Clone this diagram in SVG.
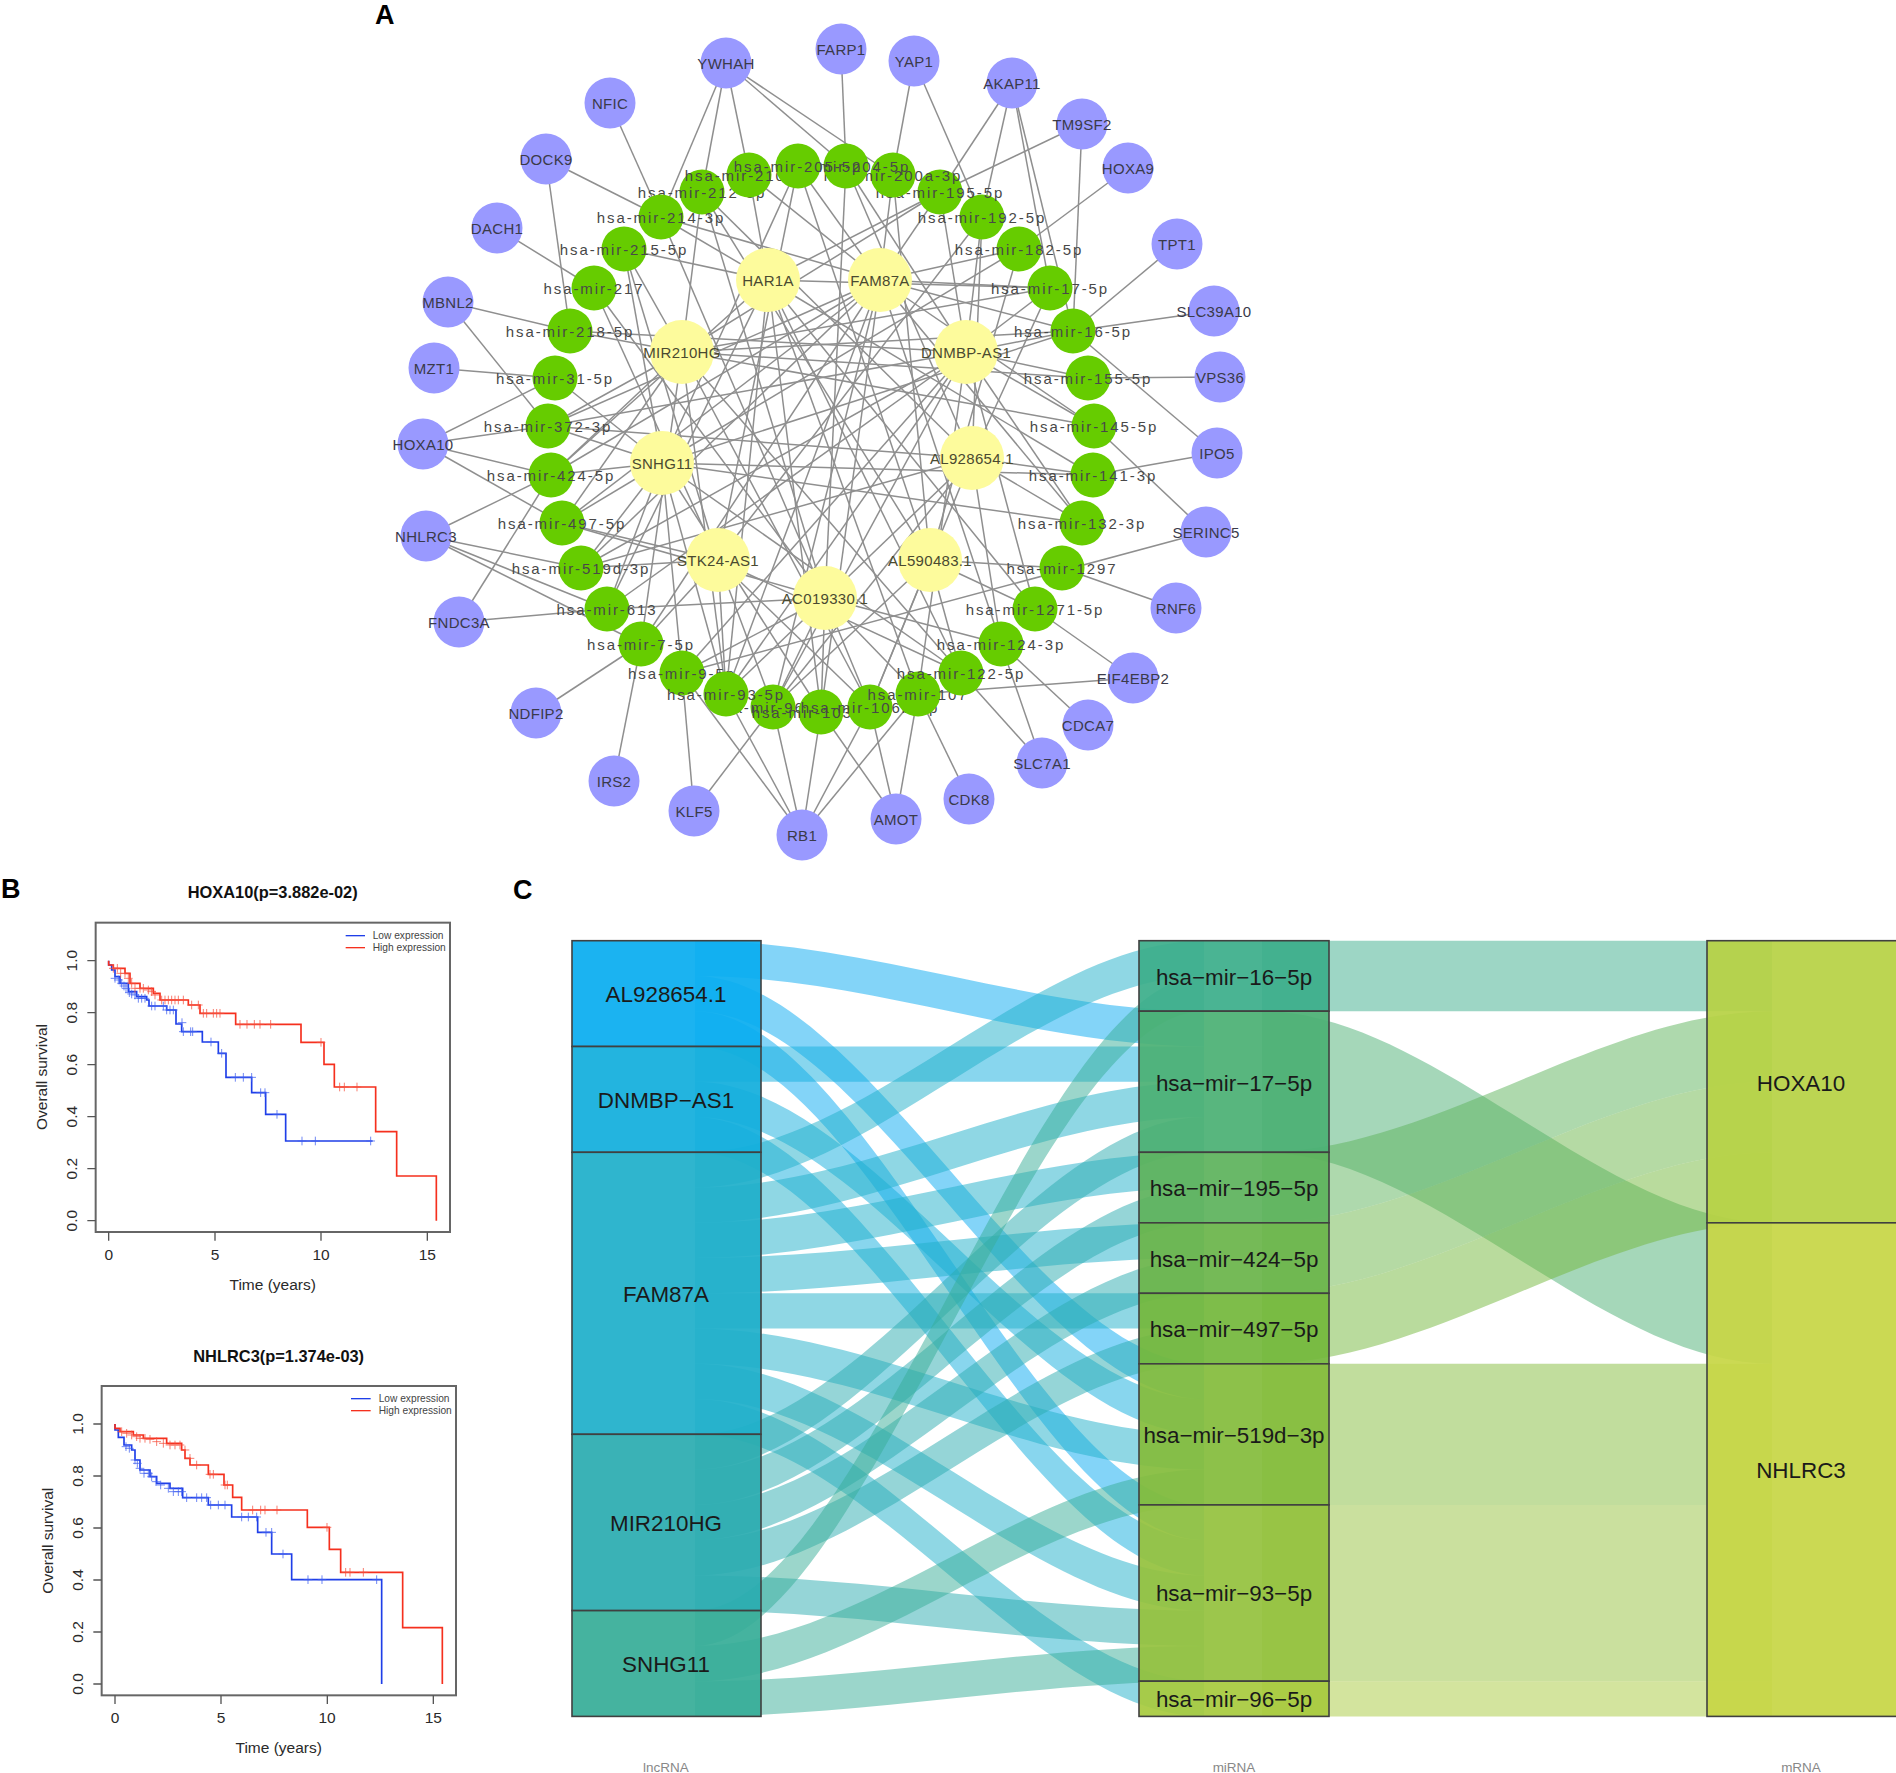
<svg xmlns="http://www.w3.org/2000/svg" width="1896" height="1773" viewBox="0 0 1896 1773">
<style>
text{font-family:"Liberation Sans",Arial,sans-serif}
.e path{stroke:#8f8f8f;stroke-width:1.5;fill:none}
.p circle{fill:#9999ff}
.y circle{fill:#fdfb9c}
.g circle{fill:#66cc00}
.p text,.y text{font-size:15px;letter-spacing:.3px;text-anchor:middle;fill:#3a3a4a;transform:translateY(1px)}
.y text{fill:#4a4a30}
.g text{font-size:15px;letter-spacing:1.9px;text-anchor:middle;fill:#484848;transform:translateY(1px)}
.L{font-weight:bold;font-size:27px;fill:#000}
.rib path{fill-opacity:.5}
.tile rect{fill-opacity:.93;stroke:#404040;stroke-width:1.6}
.tile text{font-size:22.4px;text-anchor:middle;fill:#1a1a1a}
.ax{font-size:13.5px;text-anchor:middle;fill:#888}
.box{fill:none;stroke:#666;stroke-width:6}
.tk{fill:none;stroke:#555;stroke-width:4}
.km text{fill:#2a2a2a}
.km .t{font-size:16.4px;font-weight:bold;text-anchor:middle;fill:#111}
.km .a{font-size:15.5px;text-anchor:middle}
.km .l{font-size:10.2px;fill:#444}
.b{fill:none;stroke:#1f3fe8;stroke-width:5}
.r{fill:none;stroke:#f5301e;stroke-width:5}
.cb{fill:none;stroke:none;marker-start:url(#pb);marker-mid:url(#pb);marker-end:url(#pb)}
.cr{fill:none;stroke:none;marker-start:url(#pr);marker-mid:url(#pr);marker-end:url(#pr)}
</style>
<defs>
<marker id="pb" markerUnits="userSpaceOnUse" markerWidth="30" markerHeight="30" refX="15" refY="15" viewBox="0 0 30 30"><path d="M15 2V28M2 15H28" stroke="#3f5ff0" stroke-width="3" stroke-opacity=".75" fill="none"/></marker>
<marker id="pr" markerUnits="userSpaceOnUse" markerWidth="30" markerHeight="30" refX="15" refY="15" viewBox="0 0 30 30"><path d="M15 2V28M2 15H28" stroke="#f5503e" stroke-width="3" stroke-opacity=".75" fill="none"/></marker>
</defs>
<rect width="1896" height="1773" fill="#fff"/>
<text class="L" x="375" y="24">A</text>
<text class="L" x="1" y="898">B</text>
<text class="L" x="513" y="899">C</text>

<g id="connectors" class="e">
<path d="M726 63L661 217"/><path d="M726 63L702 192"/><path d="M726 63L749 175"/><path d="M726 63L846 166"/><path d="M726 63L893 175"/>
<path d="M841 49L846 166"/><path d="M914 61L893 175"/><path d="M914 61L982 217"/>
<path d="M1012 83L940 192"/><path d="M1012 83L982 217"/><path d="M1012 83L1050 288"/><path d="M1012 83L1073 331"/>
<path d="M1082 124L940 192"/><path d="M1082 124L1073 331"/><path d="M1128 168L1019 249"/>
<path d="M610 103L661 217"/><path d="M546 159L661 217"/><path d="M546 159L570 331"/><path d="M497 228L594 288"/>
<path d="M448 302L570 331"/><path d="M448 302L548 426"/><path d="M434 368L555 378"/>
<path d="M423 444L555 378"/><path d="M423 444L548 426"/><path d="M423 444L551 475"/><path d="M423 444L562 523"/>
<path d="M1177 244L1073 331"/><path d="M1214 311L1073 331"/><path d="M1220 377L1088 378"/>
<path d="M1217 453L1073 331"/><path d="M1217 453L1093 475"/><path d="M1206 532L1094 426"/><path d="M1206 532L682 673"/>
<path d="M1176 608L1062 568"/><path d="M1133 678L1035 609"/><path d="M1133 678L918 694"/>
<path d="M1088 725L1001 644"/><path d="M1042 763L1001 644"/><path d="M1042 763L961 673"/>
<path d="M969 799L918 694"/><path d="M896 819L918 694"/><path d="M896 819L821 712"/><path d="M896 819L870 707"/>
<path d="M802 835L682 673"/><path d="M802 835L726 694"/><path d="M802 835L773 707"/><path d="M802 835L821 712"/><path d="M802 835L870 707"/><path d="M802 835L918 694"/>
<path d="M694 811L773 707"/><path d="M694 811L682 673"/><path d="M614 781L641 644"/><path d="M536 713L641 644"/>
<path d="M459 622L607 609"/><path d="M459 622L551 475"/>
<path d="M426 536L551 475"/><path d="M426 536L581 568"/><path d="M426 536L607 609"/><path d="M426 536L641 644"/>
<!-- FAM87A -->
<path d="M880 280L1073 331"/><path d="M880 280L1050 288"/><path d="M880 280L940 192"/><path d="M880 280L551 475"/><path d="M880 280L562 523"/><path d="M880 280L581 568"/><path d="M880 280L726 694"/><path d="M880 280L773 707"/><path d="M880 280L661 217"/><path d="M880 280L749 175"/><path d="M880 280L893 175"/><path d="M880 280L1019 249"/><path d="M880 280L1094 426"/><path d="M880 280L798 166"/><path d="M880 280L548 426"/><path d="M880 280L641 644"/><path d="M880 280L821 712"/><path d="M880 280L1001 644"/><path d="M880 280L1082 523"/>
<!-- HAR1A -->
<path d="M768 280L661 217"/><path d="M768 280L624 249"/><path d="M768 280L940 192"/><path d="M768 280L749 175"/><path d="M768 280L1050 288"/><path d="M768 280L551 475"/><path d="M768 280L607 609"/><path d="M768 280L726 694"/><path d="M768 280L821 712"/><path d="M768 280L918 694"/><path d="M768 280L961 673"/><path d="M768 280L1035 609"/><path d="M768 280L1093 475"/>
<!-- MIR210HG -->
<path d="M682 352L1050 288"/><path d="M682 352L940 192"/><path d="M682 352L551 475"/><path d="M682 352L562 523"/><path d="M682 352L726 694"/><path d="M682 352L624 249"/><path d="M682 352L570 331"/><path d="M682 352L548 426"/><path d="M682 352L702 192"/><path d="M682 352L1088 378"/><path d="M682 352L1073 331"/><path d="M682 352L1094 426"/><path d="M682 352L641 644"/><path d="M682 352L870 707"/><path d="M682 352L961 673"/>
<!-- DNMBP-AS1 -->
<path d="M966 352L1050 288"/><path d="M966 352L581 568"/><path d="M966 352L726 694"/><path d="M966 352L1073 331"/><path d="M966 352L1088 378"/><path d="M966 352L1094 426"/><path d="M966 352L1082 523"/><path d="M966 352L1035 609"/><path d="M966 352L982 217"/><path d="M966 352L940 192"/><path d="M966 352L570 331"/><path d="M966 352L548 426"/><path d="M966 352L607 609"/><path d="M966 352L682 673"/><path d="M966 352L773 707"/><path d="M966 352L918 694"/><path d="M966 352L846 166"/>
<!-- SNHG11 -->
<path d="M662 463L1073 331"/><path d="M662 463L581 568"/><path d="M662 463L726 694"/><path d="M662 463L1093 475"/><path d="M662 463L1082 523"/><path d="M662 463L548 426"/><path d="M662 463L551 475"/><path d="M662 463L562 523"/><path d="M662 463L555 378"/><path d="M662 463L624 249"/><path d="M662 463L798 166"/><path d="M662 463L1019 249"/><path d="M662 463L961 673"/><path d="M662 463L821 712"/><path d="M662 463L682 673"/><path d="M662 463L607 609"/>
<!-- AL928654.1 -->
<path d="M972 458L1050 288"/><path d="M972 458L581 568"/><path d="M972 458L726 694"/><path d="M972 458L1093 475"/><path d="M972 458L1082 523"/><path d="M972 458L1001 644"/><path d="M972 458L702 192"/><path d="M972 458L846 166"/><path d="M972 458L982 217"/><path d="M972 458L870 707"/><path d="M972 458L773 707"/><path d="M972 458L548 426"/>
<!-- STK24-AS1 -->
<path d="M718 560L581 568"/><path d="M718 560L562 523"/><path d="M718 560L641 644"/><path d="M718 560L726 694"/><path d="M718 560L773 707"/><path d="M718 560L870 707"/><path d="M718 560L961 673"/><path d="M718 560L624 249"/><path d="M718 560L594 288"/><path d="M718 560L798 166"/><path d="M718 560L982 217"/>
<!-- AL590483.1 -->
<path d="M930 560L961 673"/><path d="M930 560L1035 609"/><path d="M930 560L1019 249"/><path d="M930 560L893 175"/><path d="M930 560L798 166"/><path d="M930 560L870 707"/><path d="M930 560L773 707"/><path d="M930 560L702 192"/><path d="M930 560L1062 568"/>
<!-- AC019330.1 -->
<path d="M825 598L870 707"/><path d="M825 598L821 712"/><path d="M825 598L773 707"/><path d="M825 598L918 694"/><path d="M825 598L1001 644"/><path d="M825 598L682 673"/><path d="M825 598L607 609"/><path d="M825 598L562 523"/><path d="M825 598L846 166"/><path d="M825 598L702 192"/><path d="M825 598L661 217"/><path d="M825 598L594 288"/>
</g>

<g class="p">
<g id="n-YWHAH"><circle cx="726" cy="63" r="25.5"/><text x="726" y="68">YWHAH</text></g>
<g id="n-FARP1"><circle cx="841" cy="49" r="25.5"/><text x="841" y="54">FARP1</text></g>
<g id="n-YAP1"><circle cx="914" cy="61" r="25.5"/><text x="914" y="66">YAP1</text></g>
<g id="n-AKAP11"><circle cx="1012" cy="83" r="25.5"/><text x="1012" y="88">AKAP11</text></g>
<g id="n-TM9SF2"><circle cx="1082" cy="124" r="25.5"/><text x="1082" y="129">TM9SF2</text></g>
<g id="n-HOXA9"><circle cx="1128" cy="168" r="25.5"/><text x="1128" y="173">HOXA9</text></g>
<g id="n-NFIC"><circle cx="610" cy="103" r="25.5"/><text x="610" y="108">NFIC</text></g>
<g id="n-DOCK9"><circle cx="546" cy="159" r="25.5"/><text x="546" y="164">DOCK9</text></g>
<g id="n-DACH1"><circle cx="497" cy="228" r="25.5"/><text x="497" y="233">DACH1</text></g>
<g id="n-MBNL2"><circle cx="448" cy="302" r="25.5"/><text x="448" y="307">MBNL2</text></g>
<g id="n-MZT1"><circle cx="434" cy="368" r="25.5"/><text x="434" y="373">MZT1</text></g>
<g id="n-HOXA10"><circle cx="423" cy="444" r="25.5"/><text x="423" y="449">HOXA10</text></g>
<g id="n-TPT1"><circle cx="1177" cy="244" r="25.5"/><text x="1177" y="249">TPT1</text></g>
<g id="n-SLC39A10"><circle cx="1214" cy="311" r="25.5"/><text x="1214" y="316">SLC39A10</text></g>
<g id="n-VPS36"><circle cx="1220" cy="377" r="25.5"/><text x="1220" y="382">VPS36</text></g>
<g id="n-IPO5"><circle cx="1217" cy="453" r="25.5"/><text x="1217" y="458">IPO5</text></g>
<g id="n-SERINC5"><circle cx="1206" cy="532" r="25.5"/><text x="1206" y="537">SERINC5</text></g>
<g id="n-RNF6"><circle cx="1176" cy="608" r="25.5"/><text x="1176" y="613">RNF6</text></g>
<g id="n-EIF4EBP2"><circle cx="1133" cy="678" r="25.5"/><text x="1133" y="683">EIF4EBP2</text></g>
<g id="n-CDCA7"><circle cx="1088" cy="725" r="25.5"/><text x="1088" y="730">CDCA7</text></g>
<g id="n-SLC7A1"><circle cx="1042" cy="763" r="25.5"/><text x="1042" y="768">SLC7A1</text></g>
<g id="n-CDK8"><circle cx="969" cy="799" r="25.5"/><text x="969" y="804">CDK8</text></g>
<g id="n-AMOT"><circle cx="896" cy="819" r="25.5"/><text x="896" y="824">AMOT</text></g>
<g id="n-RB1"><circle cx="802" cy="835" r="25.5"/><text x="802" y="840">RB1</text></g>
<g id="n-KLF5"><circle cx="694" cy="811" r="25.5"/><text x="694" y="816">KLF5</text></g>
<g id="n-IRS2"><circle cx="614" cy="781" r="25.5"/><text x="614" y="786">IRS2</text></g>
<g id="n-NDFIP2"><circle cx="536" cy="713" r="25.5"/><text x="536" y="718">NDFIP2</text></g>
<g id="n-FNDC3A"><circle cx="459" cy="622" r="25.5"/><text x="459" y="627">FNDC3A</text></g>
<g id="n-NHLRC3"><circle cx="426" cy="536" r="25.5"/><text x="426" y="541">NHLRC3</text></g>
</g>

<g class="y">
<g id="n-HAR1A"><circle cx="768" cy="280" r="32"/><text x="768" y="285">HAR1A</text></g>
<g id="n-FAM87A"><circle cx="880" cy="280" r="32"/><text x="880" y="285">FAM87A</text></g>
<g id="n-MIR210HG"><circle cx="682" cy="352" r="32"/><text x="682" y="357">MIR210HG</text></g>
<g id="n-DNMBP-AS1"><circle cx="966" cy="352" r="32"/><text x="966" y="357">DNMBP-AS1</text></g>
<g id="n-SNHG11"><circle cx="662" cy="463" r="32"/><text x="662" y="468">SNHG11</text></g>
<g id="n-AL928654"><circle cx="972" cy="458" r="32"/><text x="972" y="463">AL928654.1</text></g>
<g id="n-STK24-AS1"><circle cx="718" cy="560" r="32"/><text x="718" y="565">STK24-AS1</text></g>
<g id="n-AL590483"><circle cx="930" cy="560" r="32"/><text x="930" y="565">AL590483.1</text></g>
<g id="n-AC019330"><circle cx="825" cy="598" r="32"/><text x="825" y="603">AC019330.1</text></g>
</g>

<g class="g">
<g id="m-96"><circle cx="773" cy="707" r="22.5"/><text x="773" y="712">hsa-mir-96-5p</text></g>
<g id="m-103"><circle cx="821" cy="712" r="22.5"/><text x="821" y="717">hsa-mir-103a-3p</text></g>
<g id="m-106"><circle cx="870" cy="707" r="22.5"/><text x="870" y="712">hsa-mir-106b-5p</text></g>
<g id="m-107"><circle cx="918" cy="694" r="22.5"/><text x="918" y="699">hsa-mir-107</text></g>
<g id="m-122"><circle cx="961" cy="673" r="22.5"/><text x="961" y="678">hsa-mir-122-5p</text></g>
<g id="m-124"><circle cx="1001" cy="644" r="22.5"/><text x="1001" y="649">hsa-mir-124-3p</text></g>
<g id="m-1271"><circle cx="1035" cy="609" r="22.5"/><text x="1035" y="614">hsa-mir-1271-5p</text></g>
<g id="m-1297"><circle cx="1062" cy="568" r="22.5"/><text x="1062" y="573">hsa-mir-1297</text></g>
<g id="m-132"><circle cx="1082" cy="523" r="22.5"/><text x="1082" y="528">hsa-mir-132-3p</text></g>
<g id="m-141"><circle cx="1093" cy="475" r="22.5"/><text x="1093" y="480">hsa-mir-141-3p</text></g>
<g id="m-145"><circle cx="1094" cy="426" r="22.5"/><text x="1094" y="431">hsa-mir-145-5p</text></g>
<g id="m-155"><circle cx="1088" cy="378" r="22.5"/><text x="1088" y="383">hsa-mir-155-5p</text></g>
<g id="m-16"><circle cx="1073" cy="331" r="22.5"/><text x="1073" y="336">hsa-mir-16-5p</text></g>
<g id="m-17"><circle cx="1050" cy="288" r="22.5"/><text x="1050" y="293">hsa-mir-17-5p</text></g>
<g id="m-182"><circle cx="1019" cy="249" r="22.5"/><text x="1019" y="254">hsa-mir-182-5p</text></g>
<g id="m-192"><circle cx="982" cy="217" r="22.5"/><text x="982" y="222">hsa-mir-192-5p</text></g>
<g id="m-195"><circle cx="940" cy="192" r="22.5"/><text x="940" y="197">hsa-mir-195-5p</text></g>
<g id="m-200a"><circle cx="893" cy="175" r="22.5"/><text x="893" y="180">hsa-mir-200a-3p</text></g>
<g id="m-212"><circle cx="702" cy="192" r="22.5"/><text x="702" y="197">hsa-mir-212-3p</text></g>
<g id="m-210"><circle cx="749" cy="175" r="22.5"/><text x="749" y="180">hsa-mir-210-3p</text></g>
<g id="m-204"><circle cx="846" cy="166" r="22.5"/><text x="846" y="171">hsa-mir-204-5p</text></g>
<g id="m-205"><circle cx="798" cy="166" r="22.5"/><text x="798" y="171">hsa-mir-205-5p</text></g>
<g id="m-214"><circle cx="661" cy="217" r="22.5"/><text x="661" y="222">hsa-mir-214-3p</text></g>
<g id="m-215"><circle cx="624" cy="249" r="22.5"/><text x="624" y="254">hsa-mir-215-5p</text></g>
<g id="m-217"><circle cx="594" cy="288" r="22.5"/><text x="594" y="293">hsa-mir-217</text></g>
<g id="m-218"><circle cx="570" cy="331" r="22.5"/><text x="570" y="336">hsa-mir-218-5p</text></g>
<g id="m-31"><circle cx="555" cy="378" r="22.5"/><text x="555" y="383">hsa-mir-31-5p</text></g>
<g id="m-372"><circle cx="548" cy="426" r="22.5"/><text x="548" y="431">hsa-mir-372-3p</text></g>
<g id="m-424"><circle cx="551" cy="475" r="22.5"/><text x="551" y="480">hsa-mir-424-5p</text></g>
<g id="m-497"><circle cx="562" cy="523" r="22.5"/><text x="562" y="528">hsa-mir-497-5p</text></g>
<g id="m-519"><circle cx="581" cy="568" r="22.5"/><text x="581" y="573">hsa-mir-519d-3p</text></g>
<g id="m-613"><circle cx="607" cy="609" r="22.5"/><text x="607" y="614">hsa-mir-613</text></g>
<g id="m-7"><circle cx="641" cy="644" r="22.5"/><text x="641" y="649">hsa-mir-7-5p</text></g>
<g id="m-9"><circle cx="682" cy="673" r="22.5"/><text x="682" y="678">hsa-mir-9-5p</text></g>
<g id="m-93"><circle cx="726" cy="694" r="22.5"/><text x="726" y="699">hsa-mir-93-5p</text></g>
</g>

<!-- Panel B -->
<g class="km" id="km-hoxa10">
<text class="t" x="272.7" y="898">HOXA10(p=3.882e-02)</text>
<g transform="translate(0 870) scale(.33333)">
<rect class="box" x="287" y="158" width="1063" height="928"/>
<path class="tk" d="M326 1086V1112M645 1086V1112M963 1086V1112M1282 1086V1112M262 272H287M262 428H287M262 584H287M262 740H287M262 896H287M262 1052H287"/>
<path class="b" d="M326 272V285H335V300H345V320H360V340H385V365H410V380H440V390H447V408H500V420H528V462H545V485H607V516H655V550H678V622H755V668H797V733H857V813H1118"/>
<path class="r" d="M326 272V285H340V295H375V310H390V340H420V355H460V370H480V390H565V405H600V430H707V463H903V517H972V583H1003V651H1127V785H1190V918H1309V1052"/>
<polyline class="cb" points="345,325 355,330 365,340 372,348 378,355 388,368 395,372 405,375 415,385 425,385 435,385 455,408 465,408 490,408 500,420 510,420 520,420 546,458 550,485 572,485 578,485 633,516 665,550 706,622 730,622 755,622 782,668 795,668 831,733 906,813 946,813 1112,813"/>
<polyline class="cr" points="340,295 352,295 362,310 375,310 385,325 395,340 405,355 420,355 430,355 445,360 455,365 465,375 485,390 495,390 505,390 515,390 525,390 535,390 550,390 575,405 595,405 610,430 620,430 640,430 650,430 660,430 720,463 741,463 763,463 780,463 812,463 963,517 1019,651 1033,651 1071,651"/>
<path d="M1037 197H1095" stroke="#1f3fe8" stroke-width="4"/>
<path d="M1037 233H1095" stroke="#f5301e" stroke-width="4"/>
</g>
<text class="l" x="372.7" y="939">Low expression</text>
<text class="l" x="372.7" y="951">High expression</text>
<text class="a" x="108.7" y="1260">0</text><text class="a" x="215" y="1260">5</text><text class="a" x="321" y="1260">10</text><text class="a" x="427.3" y="1260">15</text>
<text class="a" transform="translate(77 960.7) rotate(-90)">1.0</text>
<text class="a" transform="translate(77 1012.7) rotate(-90)">0.8</text>
<text class="a" transform="translate(77 1064.7) rotate(-90)">0.6</text>
<text class="a" transform="translate(77 1116.7) rotate(-90)">0.4</text>
<text class="a" transform="translate(77 1168.7) rotate(-90)">0.2</text>
<text class="a" transform="translate(77 1220.7) rotate(-90)">0.0</text>
<text class="a" transform="translate(47 1077) rotate(-90)">Overall survival</text>
<text class="a" x="272.7" y="1290">Time (years)</text>
</g>
<g class="km" id="km-nhlrc3">
<text class="t" x="278.7" y="1361.7">NHLRC3(p=1.374e-03)</text>
<g transform="translate(0 1320) scale(.33333)">
<rect class="box" x="305" y="198" width="1063" height="928"/>
<path class="tk" d="M345 1126V1152M663 1126V1152M982 1126V1152M1300 1126V1152M280 312H305M280 468H305M280 624H305M280 780H305M280 936H305M280 1092H305"/>
<path class="b" d="M345 312V330H355V352H372V375H395V390H405V420H420V450H450V470H470V490H510V505H548V533H625V555H695V591H773V637H815V702H875V779H1145V1092"/>
<path class="r" d="M345 312V325H360V335H400V345H430V355H500V370H545V390H555V415H570V435H625V463H672V495H698V532H725V570H922V622H988V688H1022V757H1208V923H1327V1092"/>
<polyline class="cb" points="378,380 388,385 405,420 412,430 420,445 432,460 445,460 455,470 468,485 482,495 505,505 520,515 535,515 545,515 560,533 590,533 605,533 620,533 632,555 655,555 675,555 725,591 745,591 770,591 798,637 815,637 849,702 924,779 966,779 1130,779"/>
<polyline class="cr" points="365,335 380,340 395,345 410,350 420,355 435,355 450,358 470,365 490,370 510,375 525,375 540,375 555,390 570,415 590,435 630,463 640,463 675,495 682,495 758,570 782,570 795,570 831,570 981,622 1037,757 1050,757 1090,757"/>
<path d="M1053 236H1112" stroke="#1f3fe8" stroke-width="4"/>
<path d="M1053 272H1112" stroke="#f5301e" stroke-width="4"/>
</g>
<text class="l" x="378.7" y="1402.3">Low expression</text>
<text class="l" x="378.7" y="1414.3">High expression</text>
<text class="a" x="115" y="1723">0</text><text class="a" x="221" y="1723">5</text><text class="a" x="327" y="1723">10</text><text class="a" x="433.3" y="1723">15</text>
<text class="a" transform="translate(83 1424) rotate(-90)">1.0</text>
<text class="a" transform="translate(83 1476) rotate(-90)">0.8</text>
<text class="a" transform="translate(83 1528) rotate(-90)">0.6</text>
<text class="a" transform="translate(83 1580) rotate(-90)">0.4</text>
<text class="a" transform="translate(83 1632) rotate(-90)">0.2</text>
<text class="a" transform="translate(83 1684) rotate(-90)">0.0</text>
<text class="a" transform="translate(53 1540.7) rotate(-90)">Overall survival</text>
<text class="a" x="278.7" y="1753">Time (years)</text>
</g>

<!-- Panel C ribbons -->
<g id="sankey-connectors" class="rib">
<path fill="#07a9f2" d="M695 940.7C865 940.7 1034 1011.2 1204 1011.2V1046.5C1034 1046.5 865 976 695 976Z"/>
<path fill="#07a9f2" d="M695 976C865 976 1034 1363.8 1204 1363.8V1399.1C1034 1399.1 865 1011.2 695 1011.2Z"/>
<path fill="#07a9f2" d="M695 1011.2C865 1011.2 1034 1504.9 1204 1504.9V1540.1C1034 1540.1 865 1046.5 695 1046.5Z"/>
<path fill="#12aedd" d="M695 1046.5H1204V1081.7H695Z"/>
<path fill="#12aedd" d="M695 1081.7C865 1081.7 1034 1399.1 1204 1399.1V1434.3C1034 1434.3 865 1117 695 1117Z"/>
<path fill="#12aedd" d="M695 1117C865 1117 1034 1540.1 1204 1540.1V1575.4C1034 1575.4 865 1152.3 695 1152.3Z"/>
<path fill="#1fafca" d="M695 1152.3C865 1152.3 1034 940.7 1204 940.7V976C1034 976 865 1187.5 695 1187.5Z"/>
<path fill="#1fafca" d="M695 1187.5C865 1187.5 1034 1081.7 1204 1081.7V1117C1034 1117 865 1222.8 695 1222.8Z"/>
<path fill="#1fafca" d="M695 1222.8C865 1222.8 1034 1152.3 1204 1152.3V1187.5C1034 1187.5 865 1258 695 1258Z"/>
<path fill="#1fafca" d="M695 1258C865 1258 1034 1222.8 1204 1222.8V1258C1034 1258 865 1293.3 695 1293.3Z"/>
<path fill="#1fafca" d="M695 1293.3H1204V1328.6H695Z"/>
<path fill="#1fafca" d="M695 1328.6C865 1328.6 1034 1434.3 1204 1434.3V1469.6C1034 1469.6 865 1363.8 695 1363.8Z"/>
<path fill="#1fafca" d="M695 1363.8C865 1363.8 1034 1575.4 1204 1575.4V1610.6C1034 1610.6 865 1399.1 695 1399.1Z"/>
<path fill="#1fafca" d="M695 1399.1C865 1399.1 1034 1681.2 1204 1681.2V1716.4C1034 1716.4 865 1434.3 695 1434.3Z"/>
<path fill="#2bacb0" d="M695 1434.3C865 1434.3 1034 1117 1204 1117V1152.3C1034 1152.3 865 1469.6 695 1469.6Z"/>
<path fill="#2bacb0" d="M695 1469.6C865 1469.6 1034 1187.5 1204 1187.5V1222.8C1034 1222.8 865 1504.9 695 1504.9Z"/>
<path fill="#2bacb0" d="M695 1504.9C865 1504.9 1034 1258 1204 1258V1293.3C1034 1293.3 865 1540.1 695 1540.1Z"/>
<path fill="#2bacb0" d="M695 1540.1C865 1540.1 1034 1328.6 1204 1328.6V1363.8C1034 1363.8 865 1575.4 695 1575.4Z"/>
<path fill="#2bacb0" d="M695 1575.4C865 1575.4 1034 1610.6 1204 1610.6V1645.9C1034 1645.9 865 1610.6 695 1610.6Z"/>
<path fill="#37ad98" d="M695 1610.6C865 1610.6 1034 976 1204 976V1011.2C1034 1011.2 865 1645.9 695 1645.9Z"/>
<path fill="#37ad98" d="M695 1645.9C865 1645.9 1034 1469.6 1204 1469.6V1504.9C1034 1504.9 865 1681.2 695 1681.2Z"/>
<path fill="#37ad98" d="M695 1681.2C865 1681.2 1034 1645.9 1204 1645.9V1681.2C1034 1681.2 865 1716.4 695 1716.4Z"/>
<path fill="#3cae8b" d="M1262 940.7H1772V1011.2H1262Z"/>
<path fill="#4bb074" d="M1262 1011.2C1432 1011.2 1602 1222.8 1772 1222.8V1363.8C1602 1363.8 1432 1152.3 1262 1152.3Z"/>
<path fill="#5eb35c" d="M1262 1152.3C1432 1152.3 1602 1011.2 1772 1011.2V1081.7C1602 1081.7 1432 1222.8 1262 1222.8Z"/>
<path fill="#6bb54a" d="M1262 1222.8C1432 1222.8 1602 1081.7 1772 1081.7V1152.3C1602 1152.3 1432 1293.3 1262 1293.3Z"/>
<path fill="#74b83c" d="M1262 1293.3C1432 1293.3 1602 1152.3 1772 1152.3V1222.8C1602 1222.8 1432 1363.8 1262 1363.8Z"/>
<path fill="#84bc3c" d="M1262 1363.8H1772V1504.9H1262Z"/>
<path fill="#95c23e" d="M1262 1504.9H1772V1681.2H1262Z"/>
<path fill="#a8ca3e" d="M1262 1681.2H1772V1716.4H1262Z"/>
</g>
<g class="tile">
<g id="s-AL928654"><rect x="572" y="940.7" width="189" height="105.8" fill="#0aadf0"/><text x="666" y="1002">AL928654.1</text></g>
<g id="s-DNMBP"><rect x="572" y="1046.5" width="189" height="105.8" fill="#12aedd"/><text x="666" y="1108">DNMBP−AS1</text></g>
<g id="s-FAM87A"><rect x="572" y="1152.3" width="189" height="282" fill="#1fafca"/><text x="666" y="1302">FAM87A</text></g>
<g id="s-MIR210HG"><rect x="572" y="1434.3" width="189" height="176.3" fill="#2bacb0"/><text x="666" y="1531">MIR210HG</text></g>
<g id="s-SNHG11"><rect x="572" y="1610.6" width="189" height="105.8" fill="#37ad98"/><text x="666" y="1672">SNHG11</text></g>
<g id="s-16"><rect x="1139" y="940.7" width="190" height="70.5" fill="#3cae8b"/><text x="1234" y="985">hsa−mir−16−5p</text></g>
<g id="s-17"><rect x="1139" y="1011.2" width="190" height="141.1" fill="#4bb074"/><text x="1234" y="1091">hsa−mir−17−5p</text></g>
<g id="s-195"><rect x="1139" y="1152.3" width="190" height="70.5" fill="#5eb35c"/><text x="1234" y="1196">hsa−mir−195−5p</text></g>
<g id="s-424"><rect x="1139" y="1222.8" width="190" height="70.5" fill="#6bb54a"/><text x="1234" y="1267">hsa−mir−424−5p</text></g>
<g id="s-497"><rect x="1139" y="1293.3" width="190" height="70.5" fill="#74b83c"/><text x="1234" y="1337">hsa−mir−497−5p</text></g>
<g id="s-519"><rect x="1139" y="1363.8" width="190" height="141.1" fill="#84bc3c"/><text x="1234" y="1443">hsa−mir−519d−3p</text></g>
<g id="s-93"><rect x="1139" y="1504.9" width="190" height="176.3" fill="#95c23e"/><text x="1234" y="1601">hsa−mir−93−5p</text></g>
<g id="s-96"><rect x="1139" y="1681.2" width="190" height="35.2" fill="#a8ca3e"/><text x="1234" y="1707">hsa−mir−96−5p</text></g>
<g id="s-HOXA10"><rect x="1707" y="940.7" width="200" height="282.1" fill="#b7d245"/><text x="1801" y="1091">HOXA10</text></g>
<g id="s-NHLRC3"><rect x="1707" y="1222.8" width="200" height="493.6" fill="#c7d646"/><text x="1801" y="1478">NHLRC3</text></g>
</g>
<text class="ax" x="666" y="1772">lncRNA</text>
<text class="ax" x="1234" y="1772">miRNA</text>
<text class="ax" x="1801" y="1772">mRNA</text>
</svg>
